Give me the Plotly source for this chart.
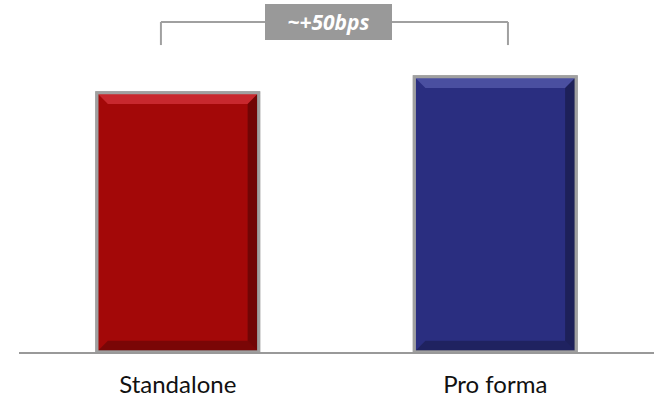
import plotly.graph_objects as go

categories = ["Standalone", "Pro forma"]
values = [8.1, 8.6]
colors = ["#A30808", "#2A2E80"]
highlight = ["#C8282E", "#4A4FA0"]
bracket_label = "~+50bps"

y_max = 11
bar_width = 0.51

fig = go.Figure()
fig.add_trace(go.Bar(
    x=[0, 1], y=values, width=bar_width,
    marker=dict(color=colors, line=dict(color="#9c9c9c", width=3)),
    hoverinfo="skip",
))

for i, v in enumerate(values):
    hw = bar_width / 2
    inset = 0.035
    band = 0.35
    path = (f"M {i-hw} {v} L {i+hw} {v} L {i+hw-inset} {v-band} "
            f"L {i-hw+inset} {v-band} Z")
    fig.add_shape(type="path", path=path, xref="x", yref="y",
                  fillcolor=highlight[i], line=dict(width=0), layer="above")
    path2 = (f"M {i-hw} 0 L {i+hw} 0 L {i+hw-inset} {band} "
             f"L {i-hw+inset} {band} Z")
    fig.add_shape(type="path", path=path2, xref="x", yref="y",
                  fillcolor="rgba(0,0,0,0.25)", line=dict(width=0), layer="above")
    path3 = (f"M {i+hw} 0 L {i+hw} {v} L {i+hw-inset} {v-band} "
             f"L {i+hw-inset} {band} Z")
    fig.add_shape(type="path", path=path3, xref="x", yref="y",
                  fillcolor="rgba(0,0,0,0.3)", line=dict(width=0), layer="above")
    fig.add_shape(type="rect", x0=i-hw, x1=i+hw, y0=0, y1=v, xref="x", yref="y",
                  line=dict(color="#a0a0a0", width=3), layer="above")

by_top = 0.9375
by_bot = 0.872
xl, xr = -0.053, 1.04
gray = "#999999"
for x0, x1, y0, y1 in [(xl, xl, by_bot, by_top), (xr, xr, by_bot, by_top), (xl, xr, by_top, by_top)]:
    fig.add_shape(type="line", xref="x", yref="paper", x0=x0, x1=x1, y0=y0, y1=y1,
                  line=dict(color="#a0a0a0", width=2))
fig.add_annotation(
    x=0.487, xref="paper", y=by_top, yref="paper", xanchor="center", yanchor="middle",
    text=f"<b><i>{bracket_label}</i></b>", showarrow=False,
    font=dict(family="Open Sans", size=21, color="white"),
    bgcolor=gray, bordercolor=gray, borderwidth=0,
    width=127, height=36, borderpad=0, align="center", valign="middle",
)

fig.update_layout(
    width=654, height=405,
    margin=dict(l=19, r=0, t=0, b=53),
    paper_bgcolor="white", plot_bgcolor="white",
    showlegend=False, bargap=0.49,
    xaxis=dict(
        tickmode="array", tickvals=[0, 1], ticktext=categories,
        range=[-0.5, 1.5], showline=True, linecolor="#999999", linewidth=2,
        showgrid=False, zeroline=False, ticks="outside", ticklen=10, tickcolor="rgba(0,0,0,0)",
        tickfont=dict(family="Lato", size=24, color="#111111"),
    ),
    yaxis=dict(range=[0, y_max], visible=False, showgrid=False, zeroline=False),
)

fig.write_html("out.html", config={"displayModeBar": False},
               post_script="document.body.style.margin='0';document.body.style.padding='0';")
